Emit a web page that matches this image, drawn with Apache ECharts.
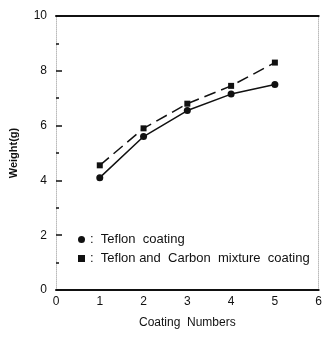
<!DOCTYPE html>
<html>
<head>
<meta charset="utf-8">
<script src="https://cdn.jsdelivr.net/npm/echarts@6/dist/echarts.min.js"></script>
<style>
  html, body { margin: 0; padding: 0; background: #fff; }
  #chart { width: 325px; height: 337px; }
</style>
</head>
<body>
<div id="chart"></div>
<script>
const coatingNumbers = [1, 2, 3, 4, 5]
const teflonWeight = [4.1, 5.6, 6.55, 7.15, 7.5]
const mixtureWeight = [4.55, 5.9, 6.8, 7.45, 8.3]
const seriesNames = ['Teflon  coating', 'Teflon and  Carbon  mixture  coating']

const chart = echarts.init(document.getElementById('chart'))
const font = 'Arial, "Liberation Sans", sans-serif'

const option = {
  animation: false,
  backgroundColor: '#fff',
  textStyle: { fontFamily: font, color: '#111' },
  grid: { left: 55, right: 5, top: 16, bottom: 47 },
  legend: {
    orient: 'vertical',
    left: 73,
    top: 228,
    itemWidth: 7,
    itemHeight: 7,
    itemGap: 6,
    textStyle: { fontFamily: font, fontSize: 13, color: '#111' },
    formatter: name => ':  ' + name,
    data: [
      { name: seriesNames[0], icon: 'circle' },
      { name: seriesNames[1], icon: 'rect' }
    ]
  },
  xAxis: [
    {
      type: 'value',
      min: 0,
      max: 6,
      interval: 1,
      axisLine: { show: true, onZero: false, lineStyle: { color: '#111', width: 2 } },
      axisTick: { show: false },
      splitLine: { show: false },
      axisLabel: { fontSize: 12, color: '#111', margin: 6 },
      name: 'Coating  Numbers',
      nameLocation: 'middle',
      nameGap: 27,
      nameTextStyle: { fontSize: 12, color: '#111' }
    },
    {
      type: 'value',
      position: 'top',
      min: 0,
      max: 6,
      axisLine: { show: true, onZero: false, lineStyle: { color: '#111', width: 2 } },
      axisTick: { show: false },
      axisLabel: { show: false },
      splitLine: { show: false }
    }
  ],
  yAxis: [
    {
      type: 'value',
      min: 0,
      max: 10,
      interval: 2,
      axisLine: { show: true, onZero: false, lineStyle: { color: '#bbb', width: 1, type: 'dotted' } },
      axisTick: { show: true, inside: true, length: 6, lineStyle: { color: '#111', width: 1.5 } },
      minorTick: { show: true, splitNumber: 2, length: 3, lineStyle: { color: '#111', width: 1.5 } },
      splitLine: { show: false },
      axisLabel: { fontSize: 12, color: '#111', margin: 9 },
      name: 'Weight(g)',
      nameLocation: 'middle',
      nameGap: 37,
      nameTextStyle: { fontSize: 11, color: '#111', fontWeight: 'bold' }
    },
    {
      type: 'value',
      position: 'right',
      min: 0,
      max: 10,
      axisLine: { show: true, onZero: false, lineStyle: { color: '#bbb', width: 1, type: 'dotted' } },
      axisTick: { show: false },
      axisLabel: { show: false },
      splitLine: { show: false }
    }
  ],
  series: [
    {
      name: seriesNames[0],
      type: 'line',
      data: coatingNumbers.map((x, i) => [x, teflonWeight[i]]),
      symbol: 'circle',
      symbolSize: 7,
      lineStyle: { color: '#111', width: 1.5 },
      itemStyle: { color: '#111' }
    },
    {
      name: seriesNames[1],
      type: 'line',
      data: coatingNumbers.map((x, i) => [x, mixtureWeight[i]]),
      symbol: 'rect',
      symbolSize: 6,
      lineStyle: { color: '#111', width: 1.5, type: [12, 6] },
      itemStyle: { color: '#111' }
    }
  ]
}

chart.setOption(option)
</script>
</body>
</html>
